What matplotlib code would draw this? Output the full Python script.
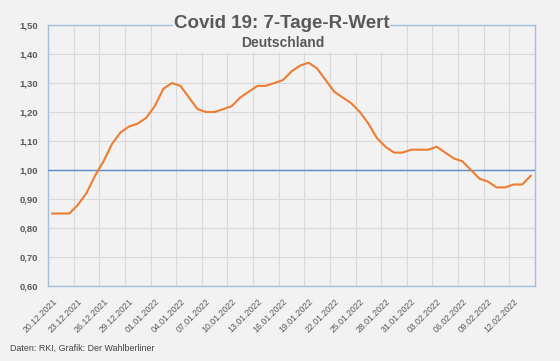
import datetime as dt

import matplotlib
matplotlib.use("Agg")
import matplotlib.pyplot as plt
from matplotlib.patches import Rectangle
from matplotlib.ticker import FuncFormatter

# daily 7-day R value, 20.12.2021 .. 14.02.2022
start = dt.date(2021, 12, 20)
r_values = [0.85, 0.85, 0.85, 0.88, 0.92, 0.98, 1.03, 1.09, 1.13, 1.15,
            1.16, 1.18, 1.22, 1.28, 1.30, 1.29, 1.25, 1.21, 1.20, 1.20,
            1.21, 1.22, 1.25, 1.27, 1.29, 1.29, 1.30, 1.31, 1.34, 1.36,
            1.37, 1.35, 1.31, 1.27, 1.25, 1.23, 1.20, 1.16, 1.11, 1.08,
            1.06, 1.06, 1.07, 1.07, 1.07, 1.08, 1.06, 1.04, 1.03, 1.00,
            0.97, 0.96, 0.94, 0.94, 0.95, 0.95, 0.98]
dates = [(start + dt.timedelta(days=i)).strftime("%d.%m.%Y") for i in range(len(r_values))]
reference = 1.0

BG = "#f2f2f2"
TXT = "#595959"
W, H = 560, 361
plt.rcParams["font.family"] = ["Liberation Sans", "DejaVu Sans"]

fig = plt.figure(figsize=(W / 100, H / 100), dpi=100, facecolor=BG)
ax = fig.add_axes([48 / W, 1 - 286 / H, (535 - 48) / W, (286 - 25) / H])
ax.set_facecolor(BG)

x = list(range(len(r_values)))
ax.plot(x, r_values, color="#ed7d31", lw=1.5, solid_joinstyle="round", zorder=4)
ax.axhline(reference, color="#5b8ccb", lw=1.0, zorder=3)

ax.set_xlim(-0.5, len(r_values) - 0.5)
ax.set_ylim(0.6, 1.5)
ax.set_yticks([0.6 + 0.1 * k for k in range(10)])
ax.yaxis.set_major_formatter(FuncFormatter(lambda v, _: f"{v:.2f}".replace(".", ",")))
ax.set_xticks(x[::3])
ax.set_xticklabels(dates[::3], rotation=45, ha="right", rotation_mode="anchor",
                   fontsize=6.3, color=TXT)
ax.set_xticks([k - 0.5 for k in range(0, len(r_values) + 1, 3)], minor=True)
ax.tick_params(axis="x", which="both", length=0, pad=8)
ax.tick_params(axis="y", length=0, pad=7, labelsize=6.8, labelcolor=TXT)
for lb in ax.get_yticklabels():
    lb.set_fontweight("bold")
ax.grid(axis="y", which="major", color="#d9d9d9", lw=0.8)
ax.grid(axis="x", which="minor", color="#d9d9d9", lw=0.8)
ax.set_axisbelow(True)
for sp in ax.spines.values():
    sp.set_color("#a3bfdf")
    sp.set_linewidth(1.0)

# title block hides the frame and gridlines behind it
fig.patches.append(Rectangle((173 / W, 1 - 53 / H), (390 - 173) / W, (53 - 8) / H,
                             transform=fig.transFigure, facecolor=BG, edgecolor="none", zorder=1))
fig.text(0.503, 1 - 24 / H, "Covid 19: 7-Tage-R-Wert", ha="center", va="center",
         fontsize=13.5, fontweight="bold", color=TXT, zorder=2)
fig.text(0.505, 1 - 43 / H, "Deutschland", ha="center", va="center",
         fontsize=10, fontweight="bold", color=TXT, zorder=2)
fig.text(10 / W, 1 - 348 / H, "Daten: RKI, Grafik: Der Wahlberliner", ha="left", va="center",
         fontsize=6.4, color="#404040")

fig.savefig("out.png", dpi=100, facecolor=BG)
